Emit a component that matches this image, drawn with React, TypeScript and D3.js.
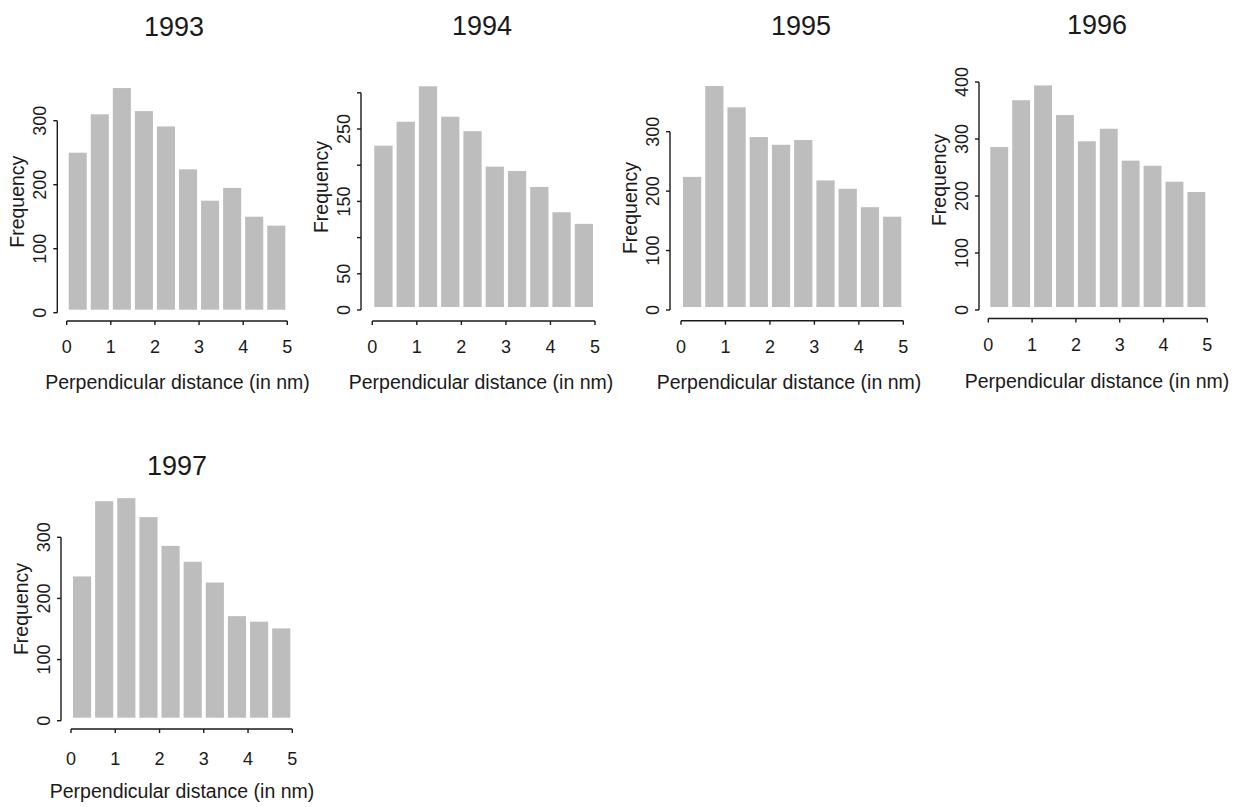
import React from "react";
import * as d3 from "d3";

const years = ["1993", "1994", "1995", "1996", "1997"];
const binStarts = [0, 0.5, 1, 1.5, 2, 2.5, 3, 3.5, 4, 4.5];
const binWidth = 0.5;
const xTicks = [0, 1, 2, 3, 4, 5];

const freq1993 = [250, 310, 351, 315, 291, 224, 175, 195, 150, 136];
const freq1994 = [227, 260, 309, 267, 247, 198, 192, 170, 135, 119];
const freq1995 = [224, 377, 341, 291, 278, 286, 218, 204, 173, 157];
const freq1996 = [286, 368, 394, 342, 296, 318, 262, 253, 225, 207];
const freq1997 = [236, 359, 364, 333, 286, 260, 226, 171, 162, 151];

const yTicks1993 = [0, 100, 200, 300];
const yTicks1994 = [0, 50, 100, 150, 200, 250, 300];
const yTicks1995 = [0, 100, 200, 300];
const yTicks1996 = [0, 100, 200, 300, 400];
const yTicks1997 = [0, 100, 200, 300];

const yLabels1993 = [0, 100, 200, 300];
const yLabels1994 = [0, 50, 150, 250];
const yLabels1995 = [0, 100, 200, 300];
const yLabels1996 = [0, 100, 200, 300, 400];
const yLabels1997 = [0, 100, 200, 300];

const xTitle = "Perpendicular distance (in nm)";
const yTitle = "Frequency";

const freqs = [freq1993, freq1994, freq1995, freq1996, freq1997];
const yTicksAll = [yTicks1993, yTicks1994, yTicks1995, yTicks1996, yTicks1997];
const yLabelsAll = [yLabels1993, yLabels1994, yLabels1995, yLabels1996, yLabels1997];

// layout (pixel geometry per panel)
const layout = [
  { x0: 66.7, x5: 287.3, yAxisX: 57.3, y0: 312.7, yRef: 300, yRefPx: 120.7, xAxisY: 321, tickY: 353, xLabY: 389, titleX: 174, titleY: 36, xLabX: 177.5, yLabY: 201.7 },
  { x0: 372.3, x5: 595, yAxisX: 361, y0: 310, yRef: 250, yRefPx: 129, xAxisY: 321, tickY: 353, xLabY: 389, titleX: 482, titleY: 35, xLabX: 481, yLabY: 187 },
  { x0: 681, x5: 903.3, yAxisX: 670, y0: 310, yRef: 300, yRefPx: 131.7, xAxisY: 320.7, tickY: 353, xLabY: 389, titleX: 801, titleY: 35, xLabX: 789, yLabY: 208 },
  { x0: 988.3, x5: 1207.3, yAxisX: 979, y0: 310, yRef: 400, yRefPx: 82, xAxisY: 318.5, tickY: 351, xLabY: 388, titleX: 1097, titleY: 33.5, xLabX: 1097, yLabY: 180 },
  { x0: 71, x5: 292.3, yAxisX: 61, y0: 720.7, yRef: 300, yRefPx: 537.3, xAxisY: 729, tickY: 765, xLabY: 798, titleX: 177, titleY: 475, xLabX: 182, yLabY: 609 },
];

const FONT = "'Liberation Sans', Arial, Helvetica, sans-serif";
const INK = "#1a1a1a";
const BAR = "#bdbdbd";

function Panel({ i }: { i: number }) {
  const L = layout[i];
  const values = freqs[i];
  const yTicks = yTicksAll[i];
  const yLabels = yLabelsAll[i];
  const x = d3.scaleLinear().domain([0, 5]).range([L.x0, L.x5]);
  const y = d3.scaleLinear().domain([0, L.yRef]).range([L.y0, L.yRefPx]);
  const yMax = d3.max(yTicks) as number;
  const tick = 4;
  return (
    <g>
      <text x={L.titleX} y={L.titleY} textAnchor="middle" fontSize={27} fill={INK} fontFamily={FONT}>
        {years[i]}
      </text>
      {binStarts.map((b, k) => {
        const xl = x(b) + 2;
        const xr = x(b + binWidth) - 2;
        const top = y(values[k]);
        const bottom = y(0) - 3;
        return <rect key={k} x={xl} y={top} width={xr - xl} height={bottom - top} fill={BAR} />;
      })}
      {/* y axis */}
      <line x1={L.yAxisX} x2={L.yAxisX} y1={y(0)} y2={y(yMax)} stroke={INK} strokeWidth={1.4} />
      {yTicks.map((t) => (
        <line key={t} x1={L.yAxisX - tick} x2={L.yAxisX} y1={y(t)} y2={y(t)} stroke={INK} strokeWidth={1.4} />
      ))}
      {yLabels.map((t) => (
        <text
          key={t}
          transform={`translate(${L.yAxisX - 11},${y(t)}) rotate(-90)`}
          textAnchor="middle"
          fontSize={18}
          fill={INK}
          fontFamily={FONT}
        >
          {t}
        </text>
      ))}
      <text
        transform={`translate(${L.yAxisX - 33},${L.yLabY}) rotate(-90)`}
        textAnchor="middle"
        fontSize={19.5}
        fill={INK}
        fontFamily={FONT}
      >
        {yTitle}
      </text>
      {/* x axis */}
      <line x1={x(0)} x2={x(5)} y1={L.xAxisY} y2={L.xAxisY} stroke={INK} strokeWidth={1.4} />
      {xTicks.map((t) => (
        <line key={t} x1={x(t)} x2={x(t)} y1={L.xAxisY} y2={L.xAxisY + tick} stroke={INK} strokeWidth={1.4} />
      ))}
      {xTicks.map((t) => (
        <text key={t} x={x(t)} y={L.tickY} textAnchor="middle" fontSize={18} fill={INK} fontFamily={FONT}>
          {t}
        </text>
      ))}
      <text x={L.xLabX} y={L.xLabY} textAnchor="middle" fontSize={19.5} fill={INK} fontFamily={FONT}>
        {xTitle}
      </text>
    </g>
  );
}

export default function App() {
  return (
    <svg
      width={1248}
      height={807}
      viewBox="0 0 1248 807"
      style={{ position: "absolute", left: 0, top: 0, background: "#ffffff" }}
    >
      <rect x={0} y={0} width={1248} height={807} fill="#ffffff" />
      {years.map((_, i) => (
        <Panel key={i} i={i} />
      ))}
    </svg>
  );
}
